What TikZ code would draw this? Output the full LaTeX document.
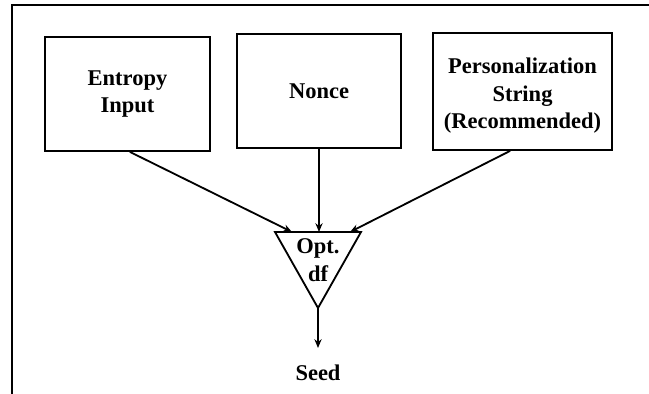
\documentclass[tikz,border=0pt]{standalone}
\usepackage{fontspec}
\setmainfont{Liberation Serif}
\usetikzlibrary{arrows.meta}
\tikzset{
    inbox/.style={draw, line width=1.3pt, align=center, font=\bfseries\fontsize{16}{19.5}\selectfont},
    flow/.style={line width=1.3pt, -{Stealth[length=2.2mm, width=1.8mm]}}
}
\begin{document}
\begin{tikzpicture}
    \useasboundingbox (0, 0) rectangle (16.225, 9.85);
    \draw[line width=2pt] (0.3, -0.1) to (0.3, 9.725) to (16.4, 9.725);
    \node[inbox, minimum width=4.125cm, minimum height=2.85cm] (entropy) at (3.1875, 7.5) {Entropy\\Input};
    \node[inbox, minimum width=4.1cm, minimum height=2.85cm] (nonce) at (7.975, 7.575) {Nonce};
    \node[inbox, minimum width=4.475cm, minimum height=2.925cm] (pers) at (13.0625, 7.5625) {};
    \node[font=\bfseries\fontsize{16}{19.5}\selectfont, align=center] (perstext) at (13.0625, 7.45) {Personalization\\String\\(Recommended)};
    \coordinate (tl) at (6.875, 4.05);
    \coordinate (tr) at (9.025, 4.05);
    \coordinate (tip) at (7.95, 2.15);
    \draw[line width=1.3pt, line join=miter] (tl) to (tr) to (tip) to cycle;
    \node[font=\bfseries\fontsize{16}{19.5}\selectfont, align=center] (df) at (7.95, 3.35) {Opt.\\df};
    \coordinate (inA) at (7.3, 4.05);
    \coordinate (inB) at (7.975, 4.05);
    \coordinate (inC) at (8.75, 4.05);
    \coordinate (outA) at (7.95, 1.15);
    \draw[flow] ([xshift=0.06cm]entropy.south) to (inA);
    \draw[flow] (nonce.south) to (inB);
    \draw[flow] ([xshift=-0.31cm]pers.south) to (inC);
    \draw[flow] (tip) to (outA);
    \node[font=\bfseries\fontsize{16}{19.5}\selectfont] (seed) at (7.95, 0.53) {Seed};
\end{tikzpicture}
\end{document}
